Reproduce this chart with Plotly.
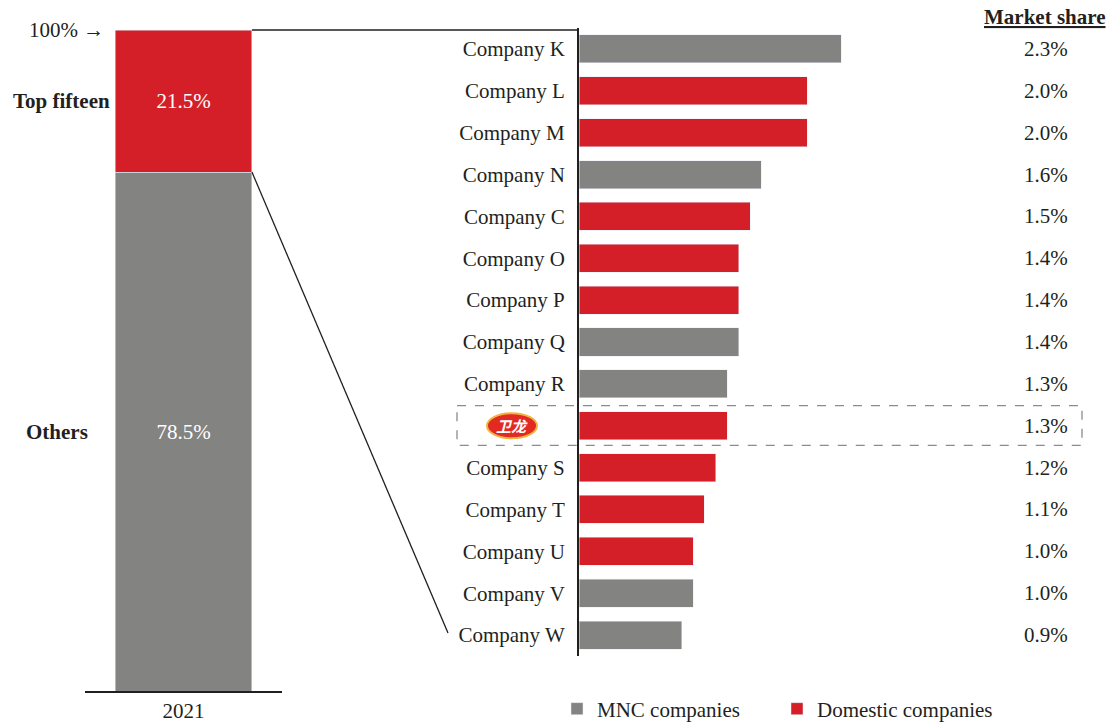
import plotly.graph_objects as go

# ---------------- data ----------------
companies = ["Company K", "Company L", "Company M", "Company N", "Company C",
             "Company O", "Company P", "Company Q", "Company R", "Weilong",
             "Company S", "Company T", "Company U", "Company V", "Company W"]
shares = [2.3, 2.0, 2.0, 1.6, 1.5, 1.4, 1.4, 1.4, 1.3, 1.3, 1.2, 1.1, 1.0, 1.0, 0.9]
types = ["MNC", "Domestic", "Domestic", "MNC", "Domestic", "Domestic", "Domestic",
         "MNC", "MNC", "Domestic", "Domestic", "Domestic", "Domestic", "MNC", "MNC"]
tick_labels = [c if c != "Weilong" else "" for c in companies]

year = ["2021"]
top_fifteen = [21.5]
others = [78.5]

# ---------------- style ----------------
W, H = 1114, 722
RED = "#D51F28"
GRAY = "#838381"
TXT = "#231F20"
FONT = "Liberation Serif"
FS = 21


def px(x):
    return x / W


def py(y):
    return 1 - y / H


# domains
R_X = [px(579), px(579 + 4.0 * 114)]
R_Y = [py(656), py(28)]
L_X = [px(85), px(282)]
L_Y = [py(691), py(30)]
L_W = 0.695

fig = go.Figure()

# left stacked bar
fig.add_trace(go.Bar(x=year, y=others, marker_color=GRAY, width=L_W, xaxis="x2", yaxis="y2",
                     text=[f"{v}%" for v in others], textposition="inside",
                     insidetextanchor="middle", textfont=dict(color="white", size=FS, family=FONT),
                     showlegend=False, hoverinfo="skip"))
fig.add_trace(go.Bar(x=year, y=top_fifteen, marker_color=RED, width=L_W, xaxis="x2", yaxis="y2",
                     text=[f"{v}%" for v in top_fifteen], textposition="inside",
                     insidetextanchor="middle", textfont=dict(color="white", size=FS, family=FONT),
                     showlegend=False, hoverinfo="skip"))

# right bars
for t, name, col in [("MNC", "MNC companies", GRAY), ("Domestic", "Domestic companies", RED)]:
    fig.add_trace(go.Bar(
        y=companies, x=[s if tt == t else None for s, tt in zip(shares, types)],
        orientation="h", marker_color=col, width=0.67, name=name,
        xaxis="x", yaxis="y"))

annotations = []
# market share labels
for c, s in zip(companies, shares):
    annotations.append(dict(x=px(1070), xref="paper", y=c, yref="y", text=f"{s:.1f}%",
                            xanchor="right", yanchor="middle", showarrow=False,
                            font=dict(size=FS, family=FONT, color=TXT)))
annotations.append(dict(x=px(1045), xref="paper", y=py(17), yref="paper",
                        text="<b><u>Market share</u></b>", showarrow=False,
                        xanchor="center", yanchor="middle",
                        font=dict(size=FS, family=FONT, color=TXT)))
# left labels
annotations.append(dict(x=px(106), xref="paper", y=100, yref="y2", text="100% →",
                        xanchor="right", yanchor="middle", showarrow=False,
                        font=dict(size=FS, family=FONT, color=TXT)))
annotations.append(dict(x=px(61), xref="paper", y=others[0] + top_fifteen[0] / 2, yref="y2",
                        text="<b>Top fifteen</b>", xanchor="center", yanchor="middle",
                        showarrow=False, font=dict(size=FS, family=FONT, color=TXT)))
annotations.append(dict(x=px(57), xref="paper", y=others[0] / 2, yref="y2",
                        text="<b>Others</b>", xanchor="center", yanchor="middle",
                        showarrow=False, font=dict(size=FS, family=FONT, color=TXT)))

# logo
wl = companies.index("Weilong")
annotations.append(dict(x=px(512), xref="paper", y=wl, yref="y", text="<b><i>卫龙</i></b>",
                        xanchor="center", yanchor="middle", showarrow=False,
                        font=dict(size=15, family="Noto Sans CJK SC", color="white")))

shapes = []
# connectors
bar_right = L_X[0] + (L_X[1] - L_X[0]) * (0.5 + L_W / 2)


def ly(v):
    return L_Y[0] + v / 100 * (L_Y[1] - L_Y[0])


shapes.append(dict(type="line", xref="paper", yref="paper", x0=bar_right, x1=R_X[0],
                   y0=ly(100), y1=ly(100), line=dict(color=TXT, width=1.3)))
shapes.append(dict(type="line", xref="paper", yref="paper", x0=bar_right, x1=px(448),
                   y0=ly(others[0]), y1=py(633), line=dict(color=TXT, width=1.3)))
# dashed highlight box
shapes.append(dict(type="rect", xref="paper", yref="y", x0=px(457), x1=px(1082),
                   y0=wl - 0.48, y1=wl + 0.47, line=dict(color="#8C8C8C", width=1.3, dash="dash"),
                   fillcolor="rgba(0,0,0,0)", layer="above"))
# logo ellipse
shapes.append(dict(type="circle", xref="paper", yref="y", x0=px(487), x1=px(537),
                   y0=wl - 0.3, y1=wl + 0.3, line=dict(color="#F0B440", width=2),
                   fillcolor="#E32A22", layer="below"))

fig.update_layout(
    width=W, height=H, autosize=False,
    margin=dict(l=0, r=0, t=0, b=0, autoexpand=False),
    paper_bgcolor="white", plot_bgcolor="white",
    barmode="stack",
    font=dict(family=FONT, size=FS, color=TXT),
    xaxis=dict(domain=R_X, range=[0, 4.0], visible=False, fixedrange=True),
    yaxis=dict(domain=R_Y, type="category", range=[len(companies) - 0.5, -0.5],
               tickmode="array", tickvals=companies, ticktext=tick_labels,
               showline=True, linecolor=TXT, linewidth=2, ticks="", showgrid=False,
               ticklabelstandoff=8, tickfont=dict(size=FS, family=FONT, color=TXT),
               anchor="x"),
    xaxis2=dict(domain=L_X, type="category", range=[-0.5, 0.5], showline=True,
                linecolor=TXT, linewidth=2, ticks="", showgrid=False, anchor="y2",
                ticklabelstandoff=0,
                tickfont=dict(size=FS, family=FONT, color=TXT)),
    yaxis2=dict(domain=L_Y, range=[0, 100], visible=False, anchor="x2"),
    legend=dict(orientation="h", x=0.5, xanchor="left", y=py(709), yanchor="middle",
                font=dict(size=FS, family=FONT, color=TXT), entrywidth=175,
                traceorder="normal", bgcolor="rgba(0,0,0,0)"),
    annotations=annotations,
    shapes=shapes,
    showlegend=True,
)

fig.write_html("out.html",
               config={"responsive": False, "displayModeBar": False},
               post_script="document.body.style.margin='0';document.body.style.overflow='hidden';")
